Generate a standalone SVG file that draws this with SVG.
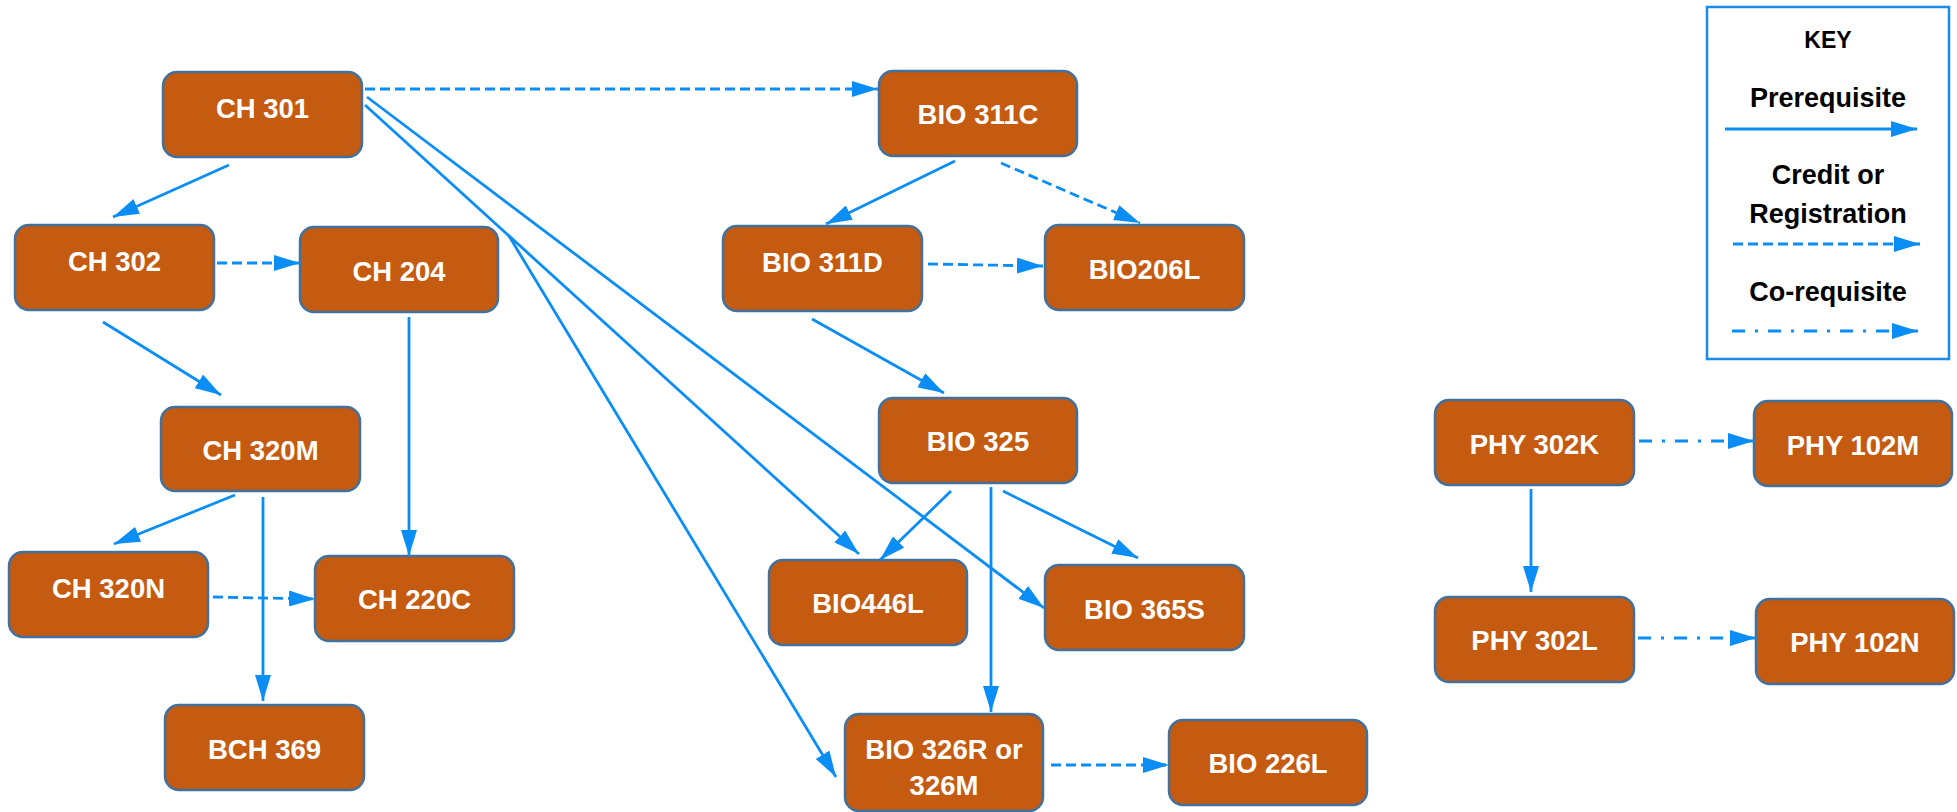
<svg xmlns="http://www.w3.org/2000/svg" width="1957" height="812" viewBox="0 0 1957 812">
<style>
.node rect{fill:#C55A11;stroke:#41719C;stroke-width:2.5}
.node text{fill:#FFFFFF;font-family:"Liberation Sans",Arial,sans-serif;font-weight:bold;font-size:27.5px;text-anchor:middle}
.c{stroke:#0A8EF6;stroke-width:2.8;fill:none;marker-end:url(#ah)}
.d{stroke-dasharray:10 5}
.dd{stroke-dasharray:13 10 3 10}
.key text{fill:#000;font-family:"Liberation Sans",Arial,sans-serif;font-weight:bold;font-size:27px;text-anchor:middle}
</style>
<defs>
<marker id="ah" markerUnits="userSpaceOnUse" markerWidth="26" markerHeight="16" refX="26" refY="8" orient="auto">
<path d="M0,0 L26,8 L0,16 z" fill="#0A8EF6" stroke="none"/>
</marker>
</defs>
<rect width="1957" height="812" fill="#FFFFFF"/>
<g id="nodes">
<g id="ch301" class="node"><rect x="163" y="72" width="199" height="85" rx="14"/><text x="262.5" y="118">CH 301</text></g>
<g id="ch302" class="node"><rect x="15" y="225" width="199" height="85" rx="14"/><text x="114.5" y="271">CH 302</text></g>
<g id="ch204" class="node"><rect x="300" y="227" width="198" height="85" rx="14"/><text x="399" y="281">CH 204</text></g>
<g id="ch320m" class="node"><rect x="161" y="407" width="199" height="84" rx="14"/><text x="260.5" y="460">CH 320M</text></g>
<g id="ch320n" class="node"><rect x="9" y="552" width="199" height="85" rx="14"/><text x="108.5" y="598">CH 320N</text></g>
<g id="ch220c" class="node"><rect x="315" y="556" width="199" height="85" rx="14"/><text x="414.5" y="609">CH 220C</text></g>
<g id="bch369" class="node"><rect x="165" y="705" width="199" height="85" rx="14"/><text x="264.5" y="759">BCH 369</text></g>
<g id="bio311c" class="node"><rect x="879" y="71" width="198" height="85" rx="14"/><text x="978" y="124">BIO 311C</text></g>
<g id="bio311d" class="node"><rect x="723" y="226" width="199" height="85" rx="14"/><text x="822.5" y="272">BIO 311D</text></g>
<g id="bio206l" class="node"><rect x="1045" y="225" width="199" height="85" rx="14"/><text x="1144.5" y="279">BIO206L</text></g>
<g id="bio325" class="node"><rect x="879" y="398" width="198" height="85" rx="14"/><text x="978" y="451">BIO 325</text></g>
<g id="bio446l" class="node"><rect x="769" y="560" width="198" height="85" rx="14"/><text x="868" y="613">BIO446L</text></g>
<g id="bio365s" class="node"><rect x="1045" y="565" width="199" height="85" rx="14"/><text x="1144.5" y="619">BIO 365S</text></g>
<g id="bio326r" class="node"><rect x="845" y="714" width="198" height="97" rx="14"/><text x="944" y="759">BIO 326R or</text><text x="944" y="795">326M</text></g>
<g id="bio226l" class="node"><rect x="1169" y="720" width="198" height="85" rx="14"/><text x="1268" y="773">BIO 226L</text></g>
<g id="phy302k" class="node"><rect x="1435" y="400" width="199" height="85" rx="14"/><text x="1534.5" y="454">PHY 302K</text></g>
<g id="phy102m" class="node"><rect x="1754" y="401" width="198" height="85" rx="14"/><text x="1853" y="455">PHY 102M</text></g>
<g id="phy302l" class="node"><rect x="1435" y="597" width="199" height="85" rx="14"/><text x="1534.5" y="650">PHY 302L</text></g>
<g id="phy102n" class="node"><rect x="1756" y="599" width="198" height="85" rx="14"/><text x="1855" y="652">PHY 102N</text></g>
</g>
<g id="connectors">
<line class="c" x1="229" y1="165" x2="113" y2="217"/>
<line class="c" x1="103" y1="322" x2="221" y2="395"/>
<line class="c" x1="409" y1="317" x2="409" y2="556"/>
<line class="c" x1="235" y1="495" x2="114" y2="544"/>
<line class="c" x1="263" y1="497" x2="263" y2="701"/>
<line class="c" x1="367" y1="97" x2="1044" y2="608"/>
<line class="c" x1="365" y1="105" x2="859" y2="554"/>
<line class="c" x1="509" y1="236" x2="836" y2="777"/>
<line class="c" x1="955" y1="161" x2="826" y2="224"/>
<line class="c" x1="812" y1="319" x2="944" y2="393"/>
<line class="c" x1="951" y1="491" x2="880" y2="560"/>
<line class="c" x1="991" y1="487" x2="991" y2="712"/>
<line class="c" x1="1003" y1="491" x2="1138" y2="558"/>
<line class="c" x1="1531" y1="489" x2="1531" y2="592"/>
<line class="c d" x1="365" y1="89" x2="878" y2="89"/>
<line class="c d" x1="217" y1="263" x2="300" y2="263"/>
<line class="c d" x1="213" y1="597" x2="315" y2="599"/>
<line class="c d" x1="1001" y1="163" x2="1140" y2="223"/>
<line class="c d" x1="928" y1="264" x2="1043" y2="266"/>
<line class="c d" x1="1051" y1="765" x2="1169" y2="765"/>
<line class="c dd" x1="1639" y1="441" x2="1754" y2="441"/>
<line class="c dd" x1="1638" y1="638" x2="1756" y2="638"/>
</g>
<g id="key" class="key">
<rect x="1707" y="7" width="242" height="352" fill="#FFFFFF" stroke="#1A8BE6" stroke-width="2.5"/>
<text x="1828" y="48" style="font-size:23px">KEY</text>
<text x="1828" y="107">Prerequisite</text>
<line class="c" x1="1725" y1="129" x2="1917" y2="129"/>
<text x="1828" y="184">Credit or</text>
<text x="1828" y="223">Registration</text>
<line class="c d" x1="1733" y1="244" x2="1920" y2="244"/>
<text x="1828" y="301">Co-requisite</text>
<line class="c dd" x1="1732" y1="331" x2="1918" y2="331"/>
</g>
</svg>
